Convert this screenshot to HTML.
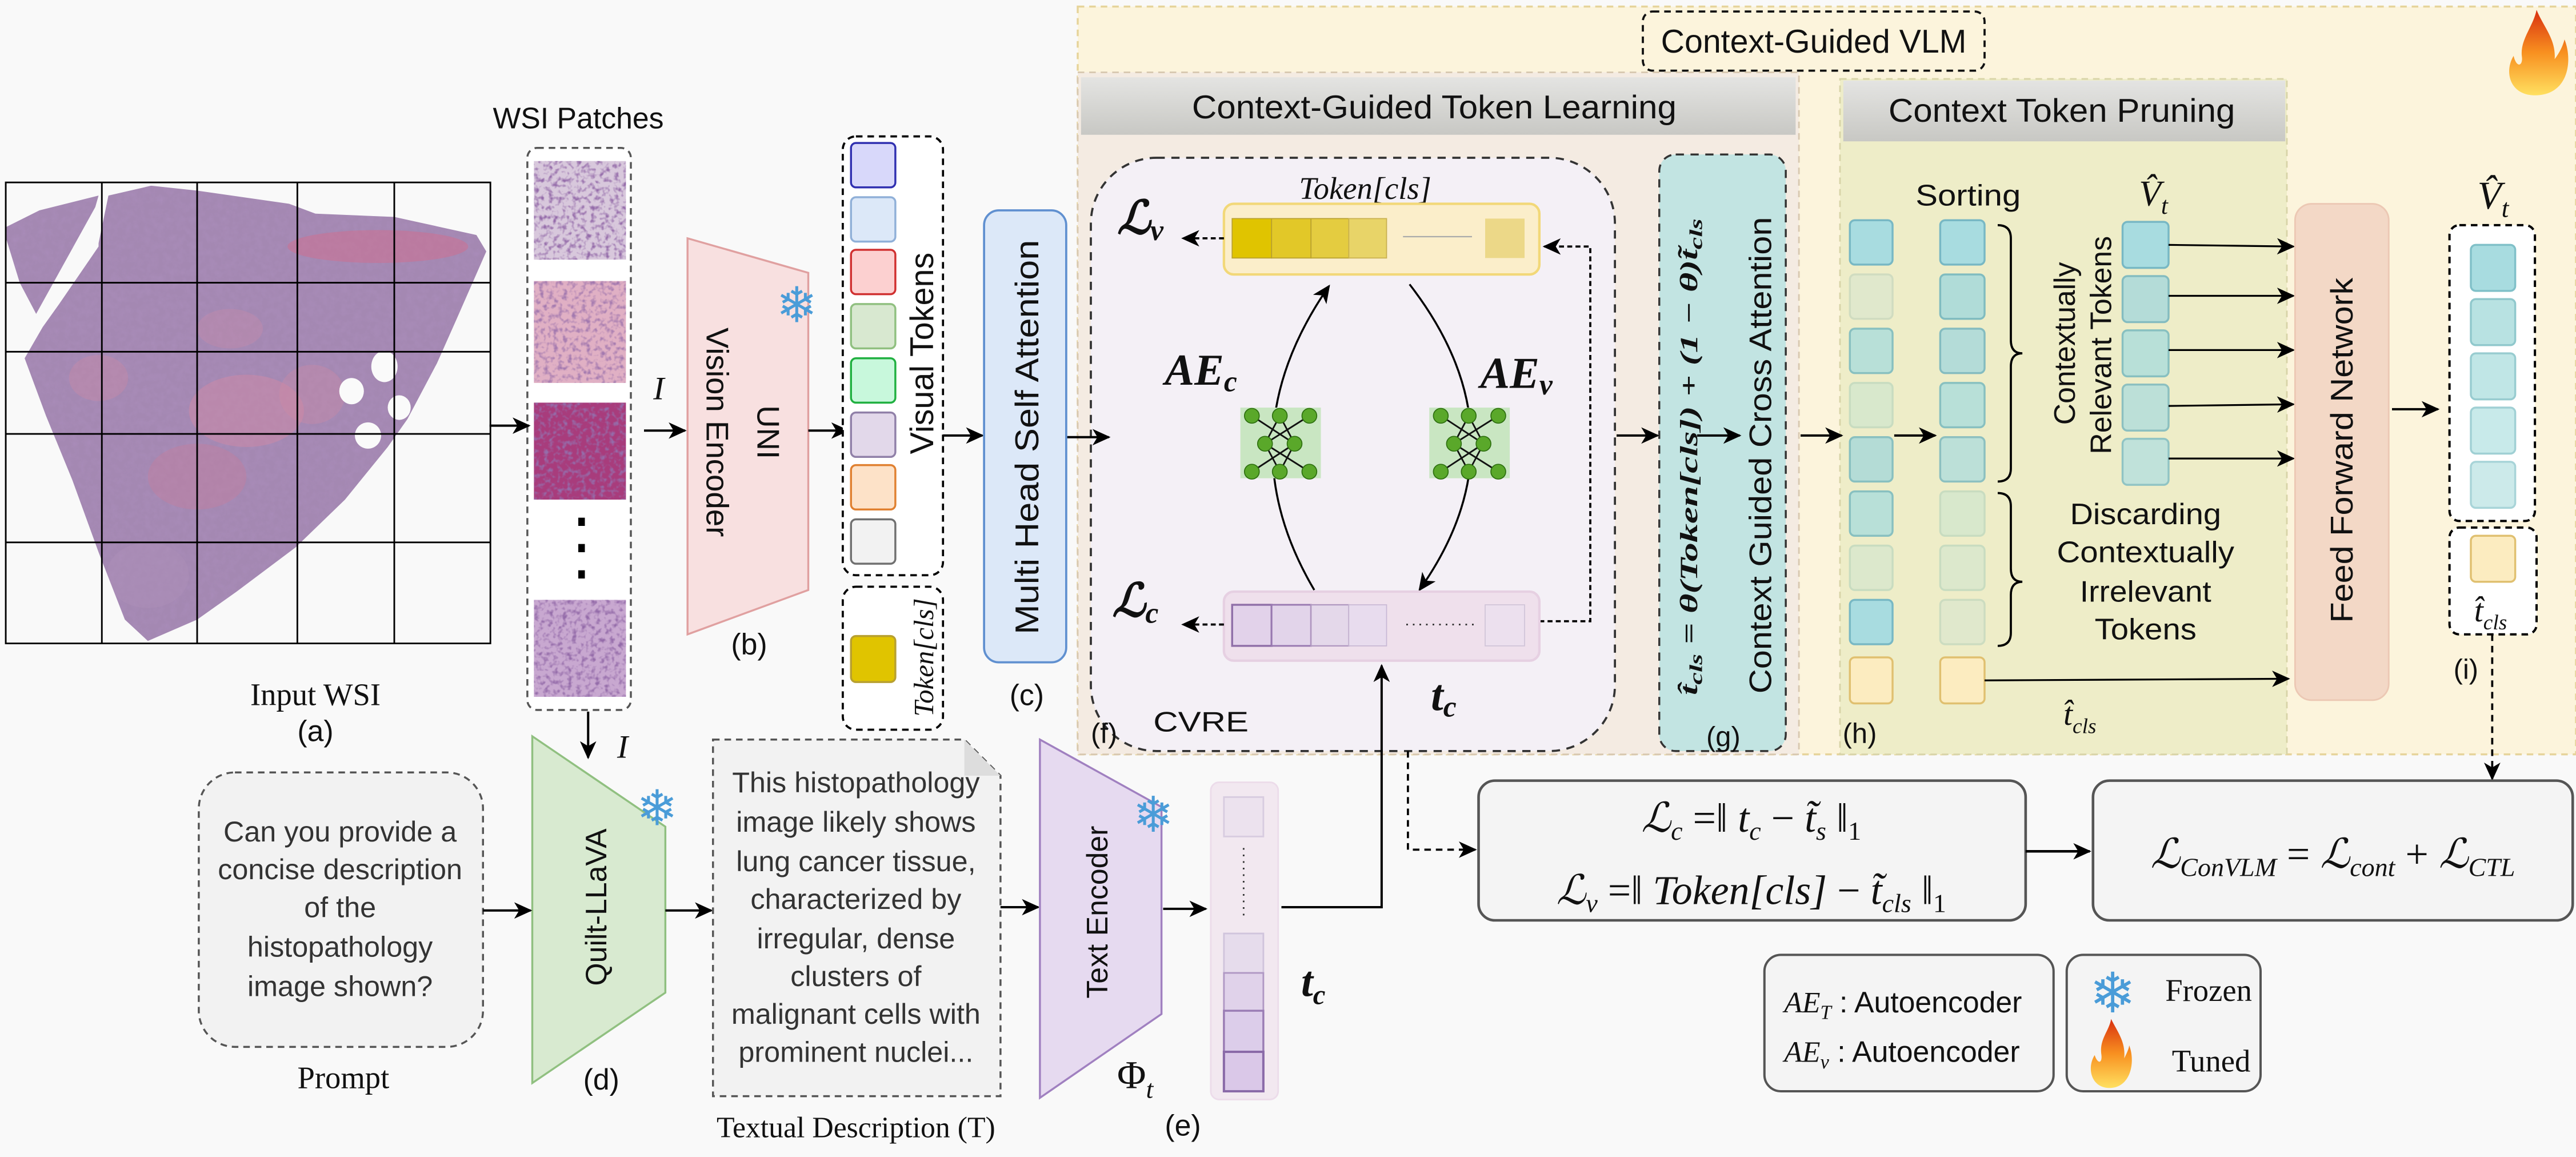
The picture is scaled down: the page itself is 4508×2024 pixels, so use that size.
<!DOCTYPE html>
<html><head><meta charset="utf-8"><style>
html,body{margin:0;padding:0;background:#f9f9f9;}
svg{display:block;}
.s{font-family:"Liberation Sans",sans-serif;fill:#111;}
.m{font-family:"Liberation Serif","DejaVu Serif",serif;font-style:italic;fill:#111;}
.c{font-family:"Liberation Sans",sans-serif;fill:#111;}
</style></head><body>
<svg width="4508" height="2024" viewBox="0 0 1568 704" preserveAspectRatio="none" xmlns="http://www.w3.org/2000/svg">
<defs>
<marker id="ar" markerWidth="12" markerHeight="10" refX="10" refY="5" orient="auto" markerUnits="userSpaceOnUse">
<path d="M0,0 L11,5 L0,10 L3,5 Z" fill="#000"/></marker>
<filter id="tex" x="0" y="0" width="1" height="1"><feTurbulence type="fractalNoise" baseFrequency="0.25" numOctaves="3" seed="3"/><feColorMatrix type="matrix" values="0 0 0 0 0.42  0 0 0 0 0.28  0 0 0 0 0.52  0 0 0 -1.6 1.1"/><feComposite in2="SourceGraphic" operator="in"/></filter>
<filter id="nuc" x="0" y="0" width="1" height="1"><feTurbulence type="fractalNoise" baseFrequency="0.35" numOctaves="2" seed="7"/><feColorMatrix type="matrix" values="0 0 0 0 0.3  0 0 0 0 0.15  0 0 0 0 0.4  0 0 0 -3 1.6"/><feComposite in2="SourceGraphic" operator="in"/></filter>
<linearGradient id="hdr" x1="0" y1="0" x2="0" y2="1"><stop offset="0" stop-color="#e4e4e2"/><stop offset="1" stop-color="#c8c8c4"/></linearGradient>
<linearGradient id="fire" x1="0" y1="1" x2="0" y2="0"><stop offset="0" stop-color="#ffe060"/><stop offset="0.5" stop-color="#f89020"/><stop offset="1" stop-color="#d83010"/></linearGradient>
<clipPath id="tis">
<path d="M60,148 L66,119 L92,113 L120,116 L176,124 L192,130 L240,132 L290,143 L296,153 L278,194 L266,221 L248,255 L236,272 L210,304 L180,333 L144,360 L120,377 L90,390 L76,377 L60,336 L44,292 L28,253 L15,218 L26,199 L36,185 L60,150 Z"/>
<path d="M4,138 L24,128 L60,119 L58,126 L22,191 L12,172 L4,146 Z"/>
</clipPath>
</defs>
<rect width="1568" height="704" fill="#f9f9f9"/>

<!-- VLM region -->
<rect x="656" y="4" width="912" height="455" fill="#fcf4dc" stroke="#e6d49a" stroke-width="1.2" stroke-dasharray="4,3"/>
<rect x="1000" y="7" width="208" height="36" rx="6" fill="#fcf4dc" stroke="#111" stroke-width="1.3" stroke-dasharray="4,3"/>
<text class="c" x="1104" y="32" font-size="20" text-anchor="middle" textLength="186" lengthAdjust="spacingAndGlyphs">Context-Guided VLM</text>
<path d="M1543,58 C1528,58 1524,44 1530,34 C1532,42 1536,40 1535,34 C1534,24 1542,16 1544,6 C1548,16 1556,24 1555,36 C1558,32 1560,28 1561,24 C1566,36 1564,58 1543,58 Z" fill="url(#fire)"/>

<!-- CGTL -->
<rect x="656" y="44" width="439" height="415" fill="#f4ebe2" stroke="#d8c8b0" stroke-width="1" stroke-dasharray="4,3"/>
<rect x="658" y="47" width="435" height="35" fill="url(#hdr)"/>
<text class="c" x="873" y="72" font-size="20" text-anchor="middle" textLength="295" lengthAdjust="spacingAndGlyphs">Context-Guided Token Learning</text>
<!-- CTP -->
<rect x="1120" y="48" width="272" height="411" fill="#eeedc8" stroke="#d8d4a8" stroke-width="1" stroke-dasharray="4,3"/>
<rect x="1122" y="49" width="269" height="37" fill="url(#hdr)"/>
<text class="c" x="1255" y="74" font-size="20" text-anchor="middle" textLength="211" lengthAdjust="spacingAndGlyphs">Context Token Pruning</text>

<!-- CVRE -->
<rect x="664" y="96" width="319" height="361" rx="40" fill="#f4f0f6" stroke="#333" stroke-width="1.3" stroke-dasharray="5,4"/>
<text class="m" x="831" y="121" font-size="19" text-anchor="middle">Token[cls]</text>
<rect x="745" y="124" width="192" height="43" rx="6" fill="#fbeeca" stroke="#f2d878" stroke-width="1.5"/>
<rect x="750" y="133" width="24" height="24" fill="#e0c400" stroke="#b8a030" stroke-width="0.6"/>
<rect x="774" y="133" width="24" height="24" fill="#e2c828" stroke="#b8a030" stroke-width="0.6"/>
<rect x="798" y="133" width="23" height="24" fill="#e4cc40" stroke="#b8a030" stroke-width="0.6"/>
<rect x="821" y="133" width="23" height="24" fill="#e8d468" stroke="#c8b050" stroke-width="0.6"/>
<line x1="854" y1="144" x2="896" y2="144" stroke="#aaa" stroke-width="0.8"/>
<rect x="904" y="133" width="24" height="24" fill="#ecd888"/>
<text class="m" x="680" y="142" font-size="28" font-weight="bold">ℒ<tspan font-size="18" dy="4">v</tspan></text>
<line x1="745" y1="145" x2="720" y2="145" stroke="#000" stroke-width="1.3" stroke-dasharray="3,2" marker-end="url(#ar)"/>
<polyline points="937,378 968,378 968,150 940,150" fill="none" stroke="#000" stroke-width="1.3" stroke-dasharray="3,2" marker-end="url(#ar)"/>
<text class="m" x="709" y="234" font-size="27" font-weight="bold">AE<tspan font-size="18" dy="4">c</tspan></text>
<text class="m" x="901" y="236" font-size="27" font-weight="bold">AE<tspan font-size="18" dy="4">v</tspan></text>
<!-- nets -->
<path d="M800,359 Q745,266 809,174" fill="none" stroke="#000" stroke-width="1.2" marker-end="url(#ar)"/>
<path d="M858,173 Q930,266 864,359" fill="none" stroke="#000" stroke-width="1.2" marker-end="url(#ar)"/>
<g id="net">
<rect x="755" y="248" width="49" height="43" fill="#c9e6c2"/>
<g stroke="#111" stroke-width="1"><line x1="762" y1="253" x2="788" y2="270"/><line x1="779" y1="253" x2="770" y2="270"/><line x1="779" y1="253" x2="788" y2="270"/><line x1="797" y1="253" x2="770" y2="270"/><line x1="770" y1="270" x2="779" y2="287"/><line x1="770" y1="270" x2="797" y2="287"/><line x1="788" y1="270" x2="762" y2="287"/><line x1="788" y1="270" x2="779" y2="287"/></g>
<g fill="#5aa82a" stroke="#2e7010" stroke-width="0.6"><circle cx="762" cy="253" r="4.5"/><circle cx="779" cy="253" r="4.5"/><circle cx="797" cy="253" r="4.5"/><circle cx="770" cy="270" r="4.5"/><circle cx="788" cy="270" r="4.5"/><circle cx="762" cy="287" r="4.5"/><circle cx="779" cy="287" r="4.5"/><circle cx="797" cy="287" r="4.5"/></g>
</g>
<use href="#net" x="115" y="0"/>
<rect x="745" y="360" width="192" height="42" rx="6" fill="#efe0ec" stroke="#e6d0e2" stroke-width="1.5"/>
<rect x="750" y="368" width="24" height="25" fill="#e2d2ea" stroke="#9070a8" stroke-width="1.2"/>
<rect x="774" y="368" width="24" height="25" fill="#e2d4ea" stroke="#9878b0" stroke-width="1"/>
<rect x="798" y="368" width="23" height="25" fill="#e4d8ea" stroke="#b098c0" stroke-width="0.8"/>
<rect x="821" y="368" width="23" height="25" fill="#e8dcee" stroke="#c8b8d4" stroke-width="0.6"/>
<line x1="856" y1="380" x2="898" y2="380" stroke="#333" stroke-width="1" stroke-dasharray="1,3"/>
<rect x="904" y="368" width="24" height="25" fill="#ece0ee" stroke="#d0c4d8" stroke-width="0.6"/>
<text class="m" x="677" y="375" font-size="28" font-weight="bold">ℒ<tspan font-size="18" dy="4">c</tspan></text>
<line x1="745" y1="380" x2="720" y2="380" stroke="#000" stroke-width="1.3" stroke-dasharray="3,2" marker-end="url(#ar)"/>
<text class="m" x="871" y="432" font-size="27" font-weight="bold">t<tspan font-size="18" dy="4">c</tspan></text>
<text class="c" x="731" y="445" font-size="17" text-anchor="middle" textLength="58" lengthAdjust="spacingAndGlyphs">CVRE</text>
<text class="c" x="664" y="452" font-size="17">(f)</text>

<!-- (g) -->
<rect x="1010" y="94" width="77" height="363" rx="10" fill="#c2e4e2" stroke="#333" stroke-width="1.2" stroke-dasharray="5,4"/>
<text class="m" transform="translate(1033,278) rotate(-90)" font-size="15" text-anchor="middle" textLength="290" lengthAdjust="spacingAndGlyphs" font-weight="bold">t̂<tspan font-size="11" dy="3">cls</tspan><tspan dy="-3"> = θ(Token[cls]) + (1 − θ)t̃</tspan><tspan font-size="11" dy="3">cls</tspan></text>
<text class="s" transform="translate(1078,277) rotate(-90)" font-size="19" text-anchor="middle" textLength="290" lengthAdjust="spacingAndGlyphs">Context Guided Cross Attention</text>
<text class="c" x="1049" y="454" font-size="17" text-anchor="middle">(g)</text>

<line x1="649" y1="266" x2="675" y2="266" stroke="#000" stroke-width="1.4" marker-end="url(#ar)"/>
<line x1="984" y1="265" x2="1009" y2="265" stroke="#000" stroke-width="1.4" marker-end="url(#ar)"/>
<line x1="1033" y1="265" x2="1059" y2="265" stroke="#000" stroke-width="1.4" marker-end="url(#ar)"/>
<line x1="1096" y1="265" x2="1121" y2="265" stroke="#000" stroke-width="1.4" marker-end="url(#ar)"/>
<line x1="1153" y1="265" x2="1178" y2="265" stroke="#000" stroke-width="1.4" marker-end="url(#ar)"/>

<!-- CTP tokens -->
<g stroke-width="1.2">
<rect x="1126" y="134" width="26" height="27" rx="3" fill="#a8dce0" stroke="#78b8c4"/>
<rect x="1126" y="167" width="26" height="27" rx="3" fill="#e0e8cc" stroke="#d0dcc0"/>
<rect x="1126" y="200" width="26" height="27" rx="3" fill="#b8e0d8" stroke="#88c0c0"/>
<rect x="1126" y="233" width="26" height="27" rx="3" fill="#d8e8cc" stroke="#c8dcc0"/>
<rect x="1126" y="266" width="26" height="27" rx="3" fill="#b4dcd6" stroke="#88c0c0"/>
<rect x="1126" y="299" width="26" height="27" rx="3" fill="#b8e0d8" stroke="#88c0c0"/>
<rect x="1126" y="332" width="26" height="27" rx="3" fill="#dce8cc" stroke="#c8dcc0"/>
<rect x="1126" y="365" width="26" height="27" rx="3" fill="#a8dce0" stroke="#78b8c4"/>
<rect x="1126" y="400" width="26" height="28" rx="3" fill="#fcecc0" stroke="#e0c070"/>
<rect x="1181" y="134" width="27" height="27" rx="3" fill="#a8dce0" stroke="#78b8c4"/>
<rect x="1181" y="167" width="27" height="27" rx="3" fill="#b0dcd8" stroke="#80bcc0"/>
<rect x="1181" y="200" width="27" height="27" rx="3" fill="#b4dcd8" stroke="#84bcc0"/>
<rect x="1181" y="233" width="27" height="27" rx="3" fill="#b8e0d8" stroke="#88c0c0"/>
<rect x="1181" y="266" width="27" height="27" rx="3" fill="#bce0d8" stroke="#8cc0c0"/>
<rect x="1181" y="299" width="27" height="27" rx="3" fill="#d8e8cc" stroke="#c8dcc0"/>
<rect x="1181" y="332" width="27" height="27" rx="3" fill="#dce8cc" stroke="#c8dcc0"/>
<rect x="1181" y="365" width="27" height="27" rx="3" fill="#e0e8cc" stroke="#ccdcc0"/>
<rect x="1181" y="400" width="27" height="28" rx="3" fill="#fcecc0" stroke="#e0c070"/>
<rect x="1292" y="135" width="28" height="28" rx="3" fill="#a8dce0" stroke="#78b8c4"/>
<rect x="1292" y="168" width="28" height="28" rx="3" fill="#b4dcd8" stroke="#84bcc0"/>
<rect x="1292" y="201" width="28" height="28" rx="3" fill="#b8e0d8" stroke="#88c0c0"/>
<rect x="1292" y="234" width="28" height="28" rx="3" fill="#bce0d8" stroke="#8cc0c0"/>
<rect x="1292" y="267" width="28" height="28" rx="3" fill="#c0e2da" stroke="#90c4c4"/>
</g>
<text class="c" x="1198" y="125" font-size="18" text-anchor="middle" textLength="64" lengthAdjust="spacingAndGlyphs">Sorting</text>
<text class="m" x="1302" y="125" font-size="22">V̂<tspan font-size="15" dy="5">t</tspan></text>
<path d="M1216,137 q8,0 8,8 v62 q0,8 7,8 q-7,0 -7,8 v62 q0,8 -8,8" fill="none" stroke="#000" stroke-width="1.3"/>
<path d="M1216,300 q8,0 8,8 v38 q0,8 7,8 q-7,0 -7,8 v23 q0,8 -8,8" fill="none" stroke="#000" stroke-width="1.3"/>
<text class="s" transform="translate(1263,209) rotate(-90)" font-size="18" text-anchor="middle">Contextually</text>
<text class="s" transform="translate(1285,210) rotate(-90)" font-size="18" text-anchor="middle">Relevant Tokens</text>
<g class="c" font-size="18" text-anchor="middle">
<text x="1306" y="319" textLength="92" lengthAdjust="spacingAndGlyphs">Discarding</text>
<text x="1306" y="342" textLength="108" lengthAdjust="spacingAndGlyphs">Contextually</text>
<text x="1306" y="366" textLength="80" lengthAdjust="spacingAndGlyphs">Irrelevant</text>
<text x="1306" y="389" textLength="62" lengthAdjust="spacingAndGlyphs">Tokens</text>
</g>
<g stroke="#000" stroke-width="1.1" marker-end="url(#ar)">
<line x1="1320" y1="149" x2="1396" y2="150"/>
<line x1="1320" y1="180" x2="1396" y2="180"/>
<line x1="1320" y1="213" x2="1396" y2="213"/>
<line x1="1320" y1="247" x2="1396" y2="246"/>
<line x1="1320" y1="279" x2="1396" y2="279"/>
<line x1="1208" y1="414" x2="1393" y2="413"/>
</g>
<text class="m" x="1256" y="441" font-size="20">t̂<tspan font-size="13" dy="5">cls</tspan></text>
<text class="c" x="1132" y="452" font-size="17" text-anchor="middle">(h)</text>

<!-- FFN -->
<rect x="1397" y="124" width="57" height="302" rx="10" fill="#f3d8c6" stroke="#ecc8b4" stroke-width="1"/>
<text class="s" transform="translate(1432,274) rotate(-90)" font-size="19" text-anchor="middle" textLength="210" lengthAdjust="spacingAndGlyphs">Feed Forward Network</text>
<line x1="1456" y1="249" x2="1484" y2="249" stroke="#000" stroke-width="1.4" marker-end="url(#ar)"/>
<text class="m" x="1508" y="127" font-size="24">V̂<tspan font-size="16" dy="5">t</tspan></text>
<rect x="1491" y="137" width="52" height="180" rx="6" fill="#fff" stroke="#000" stroke-width="1.4" stroke-dasharray="4,3"/>
<g stroke-width="1.2">
<rect x="1504" y="149" width="27" height="28" rx="3" fill="#a8dce0" stroke="#80c0c8"/>
<rect x="1504" y="182" width="27" height="28" rx="3" fill="#b8e2e2" stroke="#90c8cc"/>
<rect x="1504" y="215" width="27" height="28" rx="3" fill="#c0e6e6" stroke="#98ccd0"/>
<rect x="1504" y="248" width="27" height="28" rx="3" fill="#c8eaea" stroke="#a0d0d4"/>
<rect x="1504" y="281" width="27" height="28" rx="3" fill="#cceaea" stroke="#a8d4d8"/>
</g>
<rect x="1491" y="321" width="53" height="65" rx="6" fill="#fff" stroke="#000" stroke-width="1.4" stroke-dasharray="4,3"/>
<rect x="1504" y="326" width="27" height="28" rx="3" fill="#fcecc0" stroke="#e0c070" stroke-width="1.2"/>
<text class="m" x="1506" y="378" font-size="20">t̂<tspan font-size="13" dy="5">cls</tspan></text>
<text class="c" x="1501" y="413" font-size="17" text-anchor="middle">(i)</text>
<line x1="1517" y1="386" x2="1517" y2="474" stroke="#000" stroke-width="1.3" stroke-dasharray="4,3" marker-end="url(#ar)"/>

<!-- Loss boxes -->
<rect x="900" y="475" width="333" height="85" rx="10" fill="#f4f4f4" stroke="#555" stroke-width="1.6"/>
<text class="m" x="1066" y="506" font-size="25" text-anchor="middle">ℒ<tspan font-size="16" dy="5">c</tspan><tspan dy="-5" font-style="normal"> =‖ </tspan>t<tspan font-size="16" dy="5">c</tspan><tspan dy="-5" font-style="normal"> − </tspan>t̃<tspan font-size="16" dy="5">s</tspan><tspan dy="-5" font-style="normal"> ‖</tspan><tspan font-size="16" dy="5" font-style="normal">1</tspan></text>
<text class="m" x="1066" y="550" font-size="25" text-anchor="middle">ℒ<tspan font-size="16" dy="5">v</tspan><tspan dy="-5" font-style="normal"> =‖ </tspan>Token[cls]<tspan font-style="normal"> − </tspan>t̃<tspan font-size="16" dy="5">cls</tspan><tspan dy="-5" font-style="normal"> ‖</tspan><tspan font-size="16" dy="5" font-style="normal">1</tspan></text>
<line x1="1233" y1="518" x2="1272" y2="518" stroke="#000" stroke-width="1.6" marker-end="url(#ar)"/>
<rect x="1274" y="475" width="292" height="85" rx="10" fill="#f4f4f4" stroke="#555" stroke-width="1.6"/>
<text class="m" x="1420" y="528" font-size="25" text-anchor="middle">ℒ<tspan font-size="16" dy="5">ConVLM</tspan><tspan dy="-5" font-style="normal"> = </tspan>ℒ<tspan font-size="16" dy="5">cont</tspan><tspan dy="-5" font-style="normal"> + </tspan>ℒ<tspan font-size="16" dy="5">CTL</tspan></text>
<polyline points="857,457 857,517 898,517" fill="none" stroke="#000" stroke-width="1.3" stroke-dasharray="4,3" marker-end="url(#ar)"/>

<!-- Legend -->
<rect x="1074" y="581" width="176" height="83" rx="10" fill="#f4f4f4" stroke="#555" stroke-width="1.4"/>
<text class="m" x="1086" y="616" font-size="18">AE<tspan font-size="12" dy="4">T</tspan><tspan dy="-4" font-style="normal" font-family="Liberation Sans"> : Autoencoder</tspan></text>
<text class="m" x="1086" y="646" font-size="18">AE<tspan font-size="12" dy="4">v</tspan><tspan dy="-4" font-style="normal" font-family="Liberation Sans"> : Autoencoder</tspan></text>
<rect x="1258" y="581" width="118" height="83" rx="10" fill="#f4f4f4" stroke="#555" stroke-width="1.4"/>
<text x="1286" y="616" font-size="34" fill="#4a9cd8" text-anchor="middle" font-family="DejaVu Sans,sans-serif">❄</text>
<text x="1318" y="609" font-size="19" font-family="Liberation Serif,serif" fill="#111">Frozen</text>
<path d="M1284,662 C1273,662 1270,650 1275,642 C1277,648 1280,647 1279,641 C1278,632 1284,627 1285,620 C1289,628 1294,634 1293,644 C1294,642 1296,638 1296,636 C1300,646 1297,662 1284,662 Z" fill="url(#fire)"/>
<text x="1322" y="652" font-size="19" font-family="Liberation Serif,serif" fill="#111">Tuned</text>

<!-- Left: WSI -->
<g clip-path="url(#tis)">
<rect x="0" y="100" width="300" height="300" fill="#a488b2"/>
<rect x="0" y="100" width="300" height="300" fill="#fff" filter="url(#tex)" opacity="0.5"/>
<ellipse cx="230" cy="150" rx="55" ry="10" fill="#d86a8a" opacity="0.45"/>
<ellipse cx="150" cy="250" rx="35" ry="22" fill="#d48aa4" opacity="0.45"/>
<ellipse cx="120" cy="290" rx="30" ry="20" fill="#c87c9c" opacity="0.4"/>
<ellipse cx="60" cy="230" rx="18" ry="14" fill="#d08aa4" opacity="0.35"/>
<ellipse cx="190" cy="240" rx="20" ry="18" fill="#d08aa4" opacity="0.35"/>
<ellipse cx="140" cy="200" rx="20" ry="12" fill="#d08aa4" opacity="0.3"/>
<ellipse cx="90" cy="350" rx="25" ry="20" fill="#b090b8" opacity="0.4"/>
</g>
<ellipse cx="234" cy="223" rx="8" ry="9.5" fill="#fafafa"/><ellipse cx="214" cy="238" rx="7.5" ry="8" fill="#fafafa"/><ellipse cx="243" cy="248" rx="7" ry="7.5" fill="#fafafa"/><ellipse cx="224" cy="265" rx="8" ry="8" fill="#fafafa"/>
<g stroke="#000" stroke-width="1" fill="none">
<rect x="3.5" y="111" width="295" height="280.5"/>
<line x1="62" y1="111" x2="62" y2="391.5"/><line x1="120" y1="111" x2="120" y2="391.5"/><line x1="181" y1="111" x2="181" y2="391.5"/><line x1="240" y1="111" x2="240" y2="391.5"/>
<line x1="3.5" y1="172" x2="298.5" y2="172"/><line x1="3.5" y1="214" x2="298.5" y2="214"/><line x1="3.5" y1="264" x2="298.5" y2="264"/><line x1="3.5" y1="330" x2="298.5" y2="330"/>
</g>
<text x="192" y="429" font-size="19" text-anchor="middle" font-family="Liberation Serif,serif" fill="#111">Input WSI</text>
<text class="s" x="192" y="451" font-size="18" text-anchor="middle">(a)</text>
<text class="s" x="352" y="78" font-size="18" text-anchor="middle">WSI Patches</text>
<rect x="321" y="90" width="63" height="342" rx="6" fill="#fff" stroke="#555" stroke-width="1.2" stroke-dasharray="4,3"/>
<rect x="325" y="98" width="56" height="60" fill="#d8c8dc"/><rect x="325" y="98" width="56" height="60" fill="#fff" filter="url(#nuc)"/>
<rect x="325" y="171" width="56" height="62" fill="#e0b0c4"/><rect x="325" y="171" width="56" height="62" fill="#fff" filter="url(#nuc)" opacity="0.8"/>
<rect x="325" y="245" width="56" height="59" fill="#a83c7c"/><rect x="325" y="245" width="56" height="59" fill="#fff" filter="url(#nuc)"/>
<rect x="325" y="365" width="56" height="59" fill="#c8a8d0"/><rect x="325" y="365" width="56" height="59" fill="#fff" filter="url(#nuc)"/>
<rect x="352" y="315" width="4" height="5" fill="#000"/><rect x="352" y="331" width="4" height="5" fill="#000"/><rect x="352" y="347" width="4" height="5" fill="#000"/>
<line x1="298" y1="259" x2="322" y2="259" stroke="#000" stroke-width="1.4" marker-end="url(#ar)"/>
<text class="m" x="401" y="243" font-size="20" text-anchor="middle">I</text>
<line x1="392" y1="262" x2="417" y2="262" stroke="#000" stroke-width="1.4" marker-end="url(#ar)"/>

<!-- UNI -->
<polygon points="418.5,145 492,166 492,359 418.5,386" fill="#f8e0e0" stroke="#e0a0a0" stroke-width="1.2"/>
<text class="s" transform="translate(461,263) rotate(90)" font-size="19" text-anchor="middle">UNI</text>
<text class="s" transform="translate(430,263) rotate(90)" font-size="19" text-anchor="middle">Vision  Encoder</text>
<text x="485" y="196" font-size="30" fill="#4a9cd8" text-anchor="middle" font-family="DejaVu Sans,sans-serif">❄</text>
<text class="s" x="456" y="398" font-size="18" text-anchor="middle">(b)</text>
<line x1="492" y1="262" x2="516" y2="262" stroke="#000" stroke-width="1.4" marker-end="url(#ar)"/>

<!-- Visual tokens -->
<rect x="513" y="83" width="61" height="267" rx="8" fill="#fff" stroke="#000" stroke-width="1.3" stroke-dasharray="4,3"/>
<g stroke-width="1.2">
<rect x="518" y="87" width="27" height="27" rx="3" fill="#d8d8fa" stroke="#3030b0"/>
<rect x="518" y="120" width="27" height="27" rx="3" fill="#dce8f8" stroke="#90b0d8"/>
<rect x="518" y="152" width="27" height="27" rx="3" fill="#fcd0d0" stroke="#d03030"/>
<rect x="518" y="185" width="27" height="27" rx="3" fill="#d8e8d0" stroke="#90c080"/>
<rect x="518" y="218" width="27" height="27" rx="3" fill="#c8f8dc" stroke="#20b040"/>
<rect x="518" y="251" width="27" height="27" rx="3" fill="#e2d8ea" stroke="#9080a8"/>
<rect x="518" y="283" width="27" height="27" rx="3" fill="#fde2c8" stroke="#e08030"/>
<rect x="518" y="316" width="27" height="27" rx="3" fill="#f2f2f2" stroke="#707070"/>
</g>
<text class="s" transform="translate(568,215) rotate(-90)" font-size="20" text-anchor="middle">Visual Tokens</text>
<rect x="513" y="357" width="61" height="87" rx="8" fill="#fff" stroke="#000" stroke-width="1.3" stroke-dasharray="4,3"/>
<rect x="518" y="387" width="27" height="28" rx="3" fill="#e0c400" stroke="#b8a030" stroke-width="1.2"/>
<text class="m" transform="translate(568,400) rotate(-90)" font-size="17" text-anchor="middle">Token[cls]</text>
<line x1="574" y1="265" x2="598" y2="265" stroke="#000" stroke-width="1.4" marker-end="url(#ar)"/>
<!-- MHSA -->
<rect x="599" y="128" width="50" height="275" rx="9" fill="#dce8f8" stroke="#6090d0" stroke-width="1.3"/>
<text class="s" transform="translate(632,266) rotate(-90)" font-size="20" text-anchor="middle" textLength="240" lengthAdjust="spacingAndGlyphs">Multi Head Self Attention</text>
<text class="s" x="625" y="429" font-size="18" text-anchor="middle">(c)</text>

<!-- Quilt -->
<line x1="358" y1="433" x2="358" y2="461" stroke="#000" stroke-width="1.4" marker-end="url(#ar)"/>
<text class="m" x="379" y="461" font-size="20" text-anchor="middle">I</text>
<polygon points="324,448 405,503 405,604 324,659" fill="#d8ead0" stroke="#90c080" stroke-width="1.2"/>
<text class="s" transform="translate(369,552) rotate(-90)" font-size="18" text-anchor="middle">Quilt-LLaVA</text>
<text x="400" y="502" font-size="30" fill="#4a9cd8" text-anchor="middle" font-family="DejaVu Sans,sans-serif">❄</text>
<text class="s" x="366" y="663" font-size="18" text-anchor="middle">(d)</text>
<rect x="121" y="470" width="173" height="167" rx="22" fill="#f2f2f2" stroke="#555" stroke-width="1.2" stroke-dasharray="4,3"/>
<g class="s" font-size="17.5" text-anchor="middle" style="fill:#333">
<text x="207" y="512">Can you provide a</text>
<text x="207" y="535">concise description</text>
<text x="207" y="558">of the</text>
<text x="207" y="582">histopathology</text>
<text x="207" y="606">image shown?</text>
</g>
<text x="209" y="662" font-size="19" text-anchor="middle" font-family="Liberation Serif,serif" fill="#111">Prompt</text>
<line x1="294" y1="554" x2="323" y2="554" stroke="#000" stroke-width="1.4" marker-end="url(#ar)"/>
<line x1="405" y1="554" x2="433" y2="554" stroke="#000" stroke-width="1.4" marker-end="url(#ar)"/>
<path d="M434,450 L587,450 L609,472 L609,667 L434,667 Z" fill="#f2f2f2" stroke="#555" stroke-width="1.2" stroke-dasharray="4,3"/>
<path d="M587,450 L587,472 L609,472 Z" fill="#ddd"/>
<g class="s" font-size="17.5" text-anchor="middle" style="fill:#333">
<text x="521" y="482">This histopathology</text>
<text x="521" y="506">image likely shows</text>
<text x="521" y="530">lung cancer tissue,</text>
<text x="521" y="553">characterized by</text>
<text x="521" y="577">irregular, dense</text>
<text x="521" y="600">clusters of</text>
<text x="521" y="623">malignant cells with</text>
<text x="521" y="646">prominent nuclei...</text>
</g>
<text x="521" y="692" font-size="18" text-anchor="middle" font-family="Liberation Serif,serif" fill="#111">Textual Description (T)</text>
<line x1="609" y1="552" x2="632" y2="552" stroke="#000" stroke-width="1.4" marker-end="url(#ar)"/>

<!-- Text encoder -->
<polygon points="633,450 707,491 707,617 633,668" fill="#e6daf0" stroke="#a080c0" stroke-width="1.2"/>
<text class="s" transform="translate(674,555) rotate(-90)" font-size="18" text-anchor="middle">Text Encoder</text>
<text x="702" y="506" font-size="30" fill="#4a9cd8" text-anchor="middle" font-family="DejaVu Sans,sans-serif">❄</text>
<text x="680" y="662" font-size="24" font-family="Liberation Serif,serif" fill="#111">Φ<tspan font-size="16" font-style="italic" dy="6">t</tspan></text>
<text class="s" x="720" y="691" font-size="18" text-anchor="middle">(e)</text>
<line x1="708" y1="553" x2="734" y2="553" stroke="#000" stroke-width="1.4" marker-end="url(#ar)"/>
<rect x="737" y="476" width="41" height="193" rx="5" fill="#f2e8f0" stroke="#ecdcea" stroke-width="1"/>
<rect x="745" y="485" width="24" height="24" fill="#ece2ee" stroke="#d8cce0" stroke-width="1"/>
<line x1="757" y1="516" x2="757" y2="560" stroke="#333" stroke-width="1" stroke-dasharray="1,3"/>
<rect x="745" y="568" width="24" height="24" fill="#e6dcec" stroke="#d0c4dc" stroke-width="1"/>
<rect x="745" y="592" width="24" height="23" fill="#e0d2ea" stroke="#b098c4" stroke-width="1"/>
<rect x="745" y="615" width="24" height="25" fill="#dccdea" stroke="#9a7cb4" stroke-width="1.2"/>
<rect x="745" y="640" width="24" height="24" fill="#dac8e8" stroke="#8a6aa8" stroke-width="1.4"/>
<text class="m" x="792" y="606" font-size="26" font-weight="bold">t<tspan font-size="17" dy="5">c</tspan></text>
<polyline points="780,552 841,552 841,405" fill="none" stroke="#000" stroke-width="1.4" marker-end="url(#ar)"/>
</svg>
</body></html>
